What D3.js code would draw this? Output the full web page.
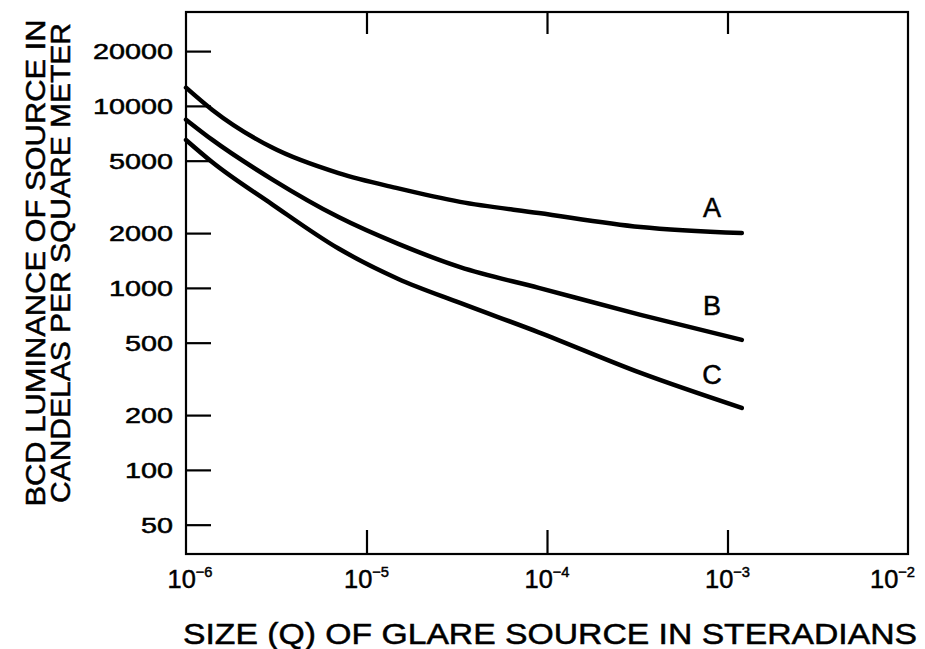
<!DOCTYPE html>
<html>
<style>
  body { margin: 0; background: #fff; }
  text { font-family: "Liberation Sans", Arial, sans-serif; fill: #000; stroke: #000; stroke-width: 0.5; }
</style>
<body>
<div id="chart"></div>
<script src="https://d3js.org/d3.v7.min.js"></script>
<script>
// glare source size (steradians) and BCD luminance (cd/m2)
var sizeQ  = [1e-6, 1.4e-6, 3e-6, 7e-6, 1.5e-5, 3.3e-5, 9e-5, 3.3e-4, 1.2e-3];
var curveA = [12600, 9500, 5900, 4270, 3520, 2970, 2580, 2160, 2000];
var curveB = [8400, 6500, 3950, 2450, 1745, 1300, 1000, 711, 518];
var curveC = [6500, 4900, 2880, 1645, 1120, 827, 570, 341, 219];
var seriesNames = ["A", "B", "C"];
var yTicks = [50, 100, 200, 500, 1000, 2000, 5000, 10000, 20000];
var xTicks = [1e-6, 1e-5, 1e-4, 1e-3, 1e-2];
var xExp = ["6", "5", "4", "3", "2"];

var W = 925, H = 649;
var svg = d3.select("#chart").append("svg")
    .attr("width", W).attr("height", H);

var x = d3.scaleLog().domain([1e-6, 1e-2]).range([186, 908]);
var y = d3.scaleLog().domain([34.5, 32800]).range([554, 12]);

// frame
svg.append("rect")
    .attr("x", x(1e-6)).attr("y", y(32800))
    .attr("width", x(1e-2) - x(1e-6)).attr("height", y(34.5) - y(32800))
    .attr("fill", "none").attr("stroke", "#000").attr("stroke-width", 2.2);

// y axis, ticks pointing inward
var yAxis = svg.append("g")
    .attr("transform", "translate(" + x(1e-6) + ",0)")
    .call(d3.axisRight(y).tickValues(yTicks).tickSize(25).tickFormat(""));
yAxis.select(".domain").remove();
yAxis.selectAll("line").attr("stroke-width", 2.2);

svg.append("g").selectAll("text")
  .data(yTicks)
  .enter().append("text")
    .attr("x", 173)
    .attr("y", function(d) { return y(d) + 8; })
    .attr("text-anchor", "end")
    .attr("font-size", 22)
    .attr("textLength", function(d) { return String(d).length * 16; })
    .attr("lengthAdjust", "spacingAndGlyphs")
    .text(function(d) { return d; });

// x axis, bottom and top, inner ticks only
var inner = xTicks.slice(1, 4);
var xBot = svg.append("g")
    .attr("transform", "translate(0," + y(34.5) + ")")
    .call(d3.axisTop(x).tickValues(inner).tickSize(24).tickFormat(""));
xBot.select(".domain").remove();
xBot.selectAll("line").attr("stroke-width", 2.2);

var xTop = svg.append("g")
    .attr("transform", "translate(0," + y(32800) + ")")
    .call(d3.axisBottom(x).tickValues(inner).tickSize(22).tickFormat(""));
xTop.select(".domain").remove();
xTop.selectAll("line").attr("stroke-width", 2.2);

var xl = svg.append("g").selectAll("text")
  .data(xTicks)
  .enter().append("text")
    .attr("x", function(d, i) { return i == 4 ? 915 : i == 0 ? x(d) + 4 : x(d); })
    .attr("y", 588)
    .attr("text-anchor", function(d, i) { return i == 4 ? "end" : "middle"; })
    .attr("font-size", 26)
    .attr("textLength", 45)
    .attr("lengthAdjust", "spacingAndGlyphs");
xl.append("tspan").text("10");
xl.append("tspan")
    .attr("dy", -11)
    .attr("font-size", 15)
    .text(function(d, i) { return "\u2212" + xExp[i]; });

// curves
var line = d3.line()
    .x(function(d) { return x(d[0]); })
    .y(function(d) { return y(d[1]); })
    .curve(d3.curveMonotoneX);

var series = [curveA, curveB, curveC];
svg.append("g").selectAll("path")
  .data(series)
  .enter().append("path")
    .attr("d", function(s) { return line(sizeQ.map(function(q, i) { return [q, s[i]]; })); })
    .attr("fill", "none")
    .attr("stroke", "#000")
    .attr("stroke-width", 4.5)
    .attr("stroke-linecap", "round");

// curve letters
var labelAt = [2780, 810, 335];
svg.append("g").selectAll("text")
  .data(seriesNames)
  .enter().append("text")
    .attr("x", 712)
    .attr("y", function(d, i) { return y(labelAt[i]) + 10; })
    .attr("text-anchor", "middle")
    .attr("font-size", 27)
    .text(function(d) { return d; });

// axis titles
svg.append("text")
    .attr("transform", "translate(45,263) rotate(-90)")
    .attr("text-anchor", "middle")
    .attr("font-size", 27)
    .attr("textLength", 487)
    .attr("lengthAdjust", "spacingAndGlyphs")
    .text("BCD LUMINANCE OF SOURCE IN");
svg.append("text")
    .attr("transform", "translate(70,263) rotate(-90)")
    .attr("text-anchor", "middle")
    .attr("font-size", 27)
    .attr("textLength", 480)
    .attr("lengthAdjust", "spacingAndGlyphs")
    .text("CANDELAS PER SQUARE METER");

svg.append("text")
    .attr("x", 550)
    .attr("y", 644)
    .attr("text-anchor", "middle")
    .attr("font-size", 29)
    .attr("textLength", 734)
    .attr("lengthAdjust", "spacingAndGlyphs")
    .text("SIZE (Q) OF GLARE SOURCE IN STERADIANS");
</script>
</body>
</html>
